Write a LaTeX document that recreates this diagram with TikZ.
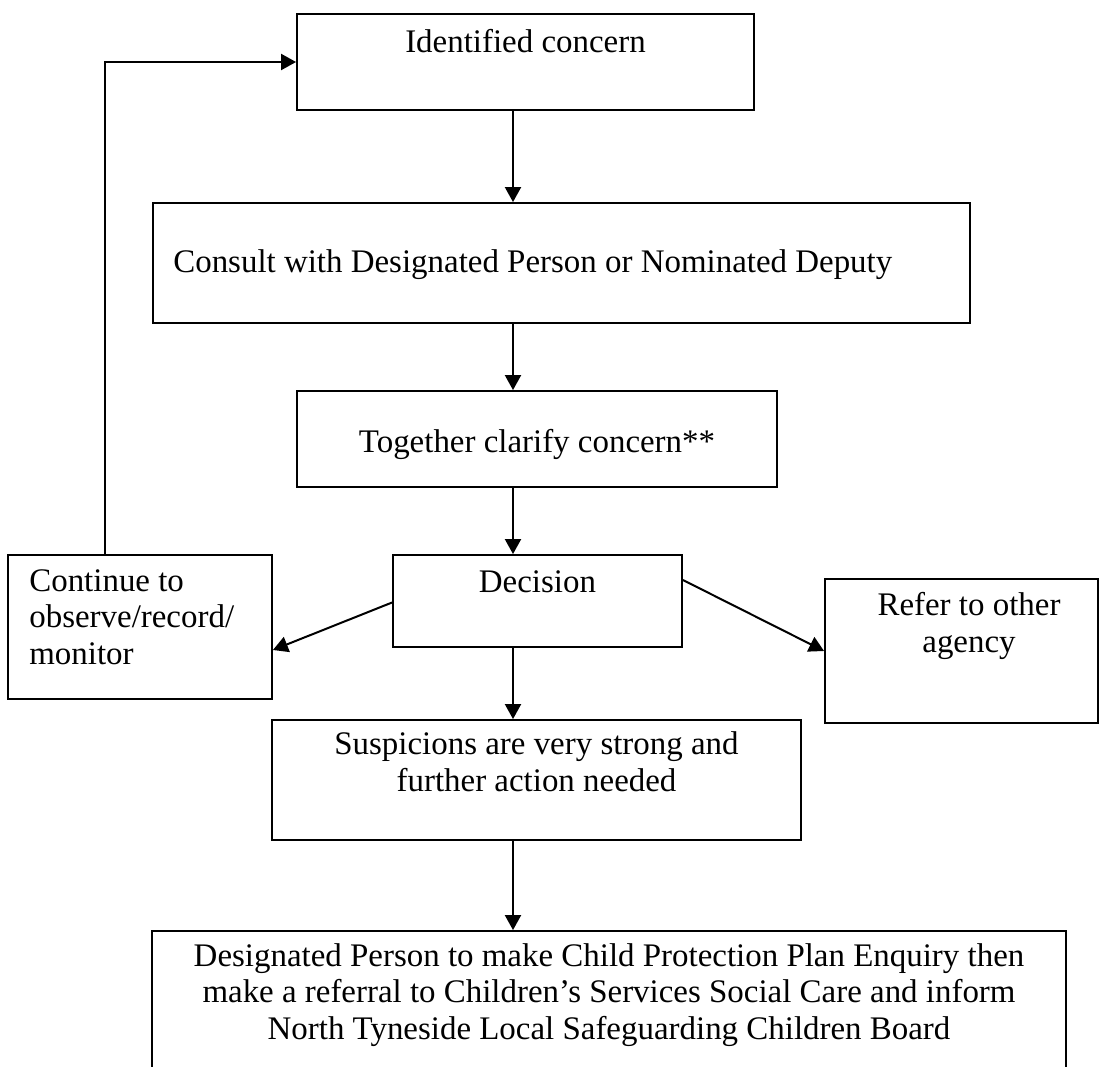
\documentclass[tikz,border=0pt]{standalone}
\usepackage{fontspec}
\setmainfont{Liberation Serif}
\usetikzlibrary{positioning, arrows.meta, calc}
\newdimen\pxu
\pxu=0.75pt

\begin{document}
\begin{tikzpicture}[
		x=0.75pt, y=-0.75pt,
		>={Triangle[length=11.25pt, width=12pt]},
		% Plain outlined box, sized in pixels of the original chart
		flowbox/.style 2 args={
				rectangle, draw=black, line width=1.4pt,
				minimum width=#1\pxu, minimum height=#2\pxu, inner sep=0pt
			},
		% Text set inside the boxes (base = baseline of the last line)
		boxtext/.style={font=\fontsize{24.7}{27.4}\selectfont, align=center, inner sep=0pt},
		% Arrows
		arrowflow/.style={->, line width=1.5pt, draw=black}
	]

	% page frame (the last box runs off the bottom edge)
	\clip (0,0) rectangle (1101,1067);

	% ==========================================
	% 1. MAIN COLUMN
	% ==========================================

	\node[flowbox={457}{96}] (concern) at (525.5, 62) {};
	\node[boxtext, anchor=base] (concerntext) at ([yshift=-39\pxu]concern.north) {Identified concern};

	\node[flowbox={817}{120}] (consult) at (561.5, 263) {};
	\node[boxtext, anchor=base west] (consulttext) at ([xshift=21\pxu, yshift=-9\pxu]consult.west) {Consult with Designated Person or Nominated Deputy};

	\node[flowbox={480}{96}] (clarify) at (537, 439) {};
	\node[boxtext, anchor=base] (clarifytext) at ([yshift=-62\pxu]clarify.north) {Together clarify concern**};

	\node[flowbox={289}{92}] (decision) at (537.5, 601) {};
	\node[boxtext, anchor=base] (decisiontext) at ([yshift=-38\pxu]decision.north) {Decision};

	\node[flowbox={529}{120}] (suspicions) at (536.5, 780) {};
	\node[boxtext, anchor=base] (suspicionstext) at ([yshift=-72\pxu]suspicions.north) {Suspicions are very strong and\\further action needed};

	\node[flowbox={914}{200}] (referral) at (609, 1031) {};
	\node[boxtext, anchor=base] (referraltext) at ([yshift=-109\pxu]referral.north) {Designated Person to make Child Protection Plan Enquiry then\\make a referral to Children’s Services Social Care and inform\\North Tyneside Local Safeguarding Children Board};

	% ==========================================
	% 2. SIDE OUTCOMES
	% ==========================================

	\node[flowbox={264}{144}] (monitor) at (140, 627) {};
	\node[boxtext, align=left, anchor=base west] (monitortext) at ([xshift=22\pxu, yshift=-110\pxu]monitor.north west) {Continue to\\observe/record/\\monitor};

	\node[flowbox={273}{144}] (agency) at (961.5, 651) {};
	\node[boxtext, anchor=base] (agencytext) at ([xshift=7.5\pxu, yshift=-74\pxu]agency.north) {Refer to other\\agency};

	% ==========================================
	% 3. ARROWS
	% ==========================================

	% all down arrows share one vertical line
	\coordinate (spine) at (513, 0);

	\draw[arrowflow] (concern.south -| spine) -- (consult.north -| spine);
	\draw[arrowflow] (consult.south -| spine) -- (clarify.north -| spine);
	\draw[arrowflow] (clarify.south -| spine) -- (decision.north -| spine);
	\draw[arrowflow] (decision.south -| spine) -- (suspicions.north -| spine);
	\draw[arrowflow] (suspicions.south -| spine) -- (referral.north -| spine);

	% branches out of the decision
	\draw[arrowflow] ([yshift=-1.5\pxu]decision.west) -- ([yshift=-23\pxu]monitor.east);
	\draw[arrowflow] ([yshift=21\pxu]decision.east) -- (agency.west);

	% back to the start
	\draw[arrowflow] ([xshift=-35\pxu]monitor.north) |- (concern.west);

\end{tikzpicture}
\end{document}
